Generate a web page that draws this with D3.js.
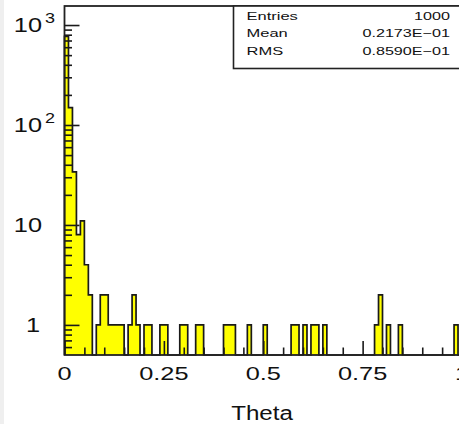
<!DOCTYPE html>
<html>
<head>
<meta charset="utf-8">
<script src="https://cdn.jsdelivr.net/npm/d3@7"></script>
<style>
  html, body { margin: 0; padding: 0; background: #fff; overflow: hidden; }
  svg { display: block; }
  text { font-family: "Liberation Sans", Arial, sans-serif; fill: #111; }
</style>
</head>
<body>
<svg id="chart" width="459" height="424"></svg>
<script>
// Theta distribution: 100 equal bins on [0, 1], counts on a log axis
const thetaRange = [0, 1];
const binCounts = [
  770, 149, 34, 8, 11, 4, 2, 0, 1, 2,
  2, 1, 1, 1, 1, 0, 1, 2, 1, 0,
  1, 1, 0, 0, 1, 1, 0, 0, 0, 1,
  1, 0, 0, 1, 1, 0, 0, 0, 0, 0,
  1, 1, 1, 0, 0, 0, 1, 0, 0, 0,
  1, 0, 0, 0, 0, 0, 0, 1, 1, 0,
  1, 0, 1, 1, 0, 1, 0, 0, 0, 0,
  0, 0, 0, 0, 0, 0, 0, 0, 1, 2,
  0, 1, 0, 0, 1, 0, 0, 0, 0, 0,
  0, 0, 0, 0, 0, 0, 0, 0, 1, 0
];

// statistics box
const statNames = ["Entries", "Mean", "RMS"];
const statValues = ["1000", "0.2173E\u221201", "0.8590E\u221201"];

// axis ticks and labels
const xMajorTicks = [0, 0.25, 0.5, 0.75, 1];
const xMajorLabels = ["0", "0.25", "0.5", "0.75", "1"];
const xMinorStep = 0.05;
const yDecades = [1, 10, 100, 1000];
const yLabelBase = ["1", "10", "10", "10"];
const yLabelExp = ["", "", "2", "3"];
const yRange = [0.5, 1550];
const xTitle = "Theta";

const svg = d3.select("#chart");
const W = 459, H = 424;
const plotL = 64.5, plotR = 462, plotT = 6, plotB = 355;

// light strip on the left edge
svg.append("rect").attr("x", 0).attr("y", 0).attr("width", 4).attr("height", H).attr("fill", "#efefef");

const x = d3.scaleLinear().domain(thetaRange).range([plotL, plotR]);
const y = d3.scaleLog().domain(yRange).range([plotB, plotT]);

// bins
const nBins = binCounts.length;
const bw = (thetaRange[1] - thetaRange[0]) / nBins;
const bins = binCounts.map((n, i) => ({ x0: thetaRange[0] + i * bw, x1: thetaRange[0] + (i + 1) * bw, n }));

// step outline points (empty bins sit on the baseline)
const pts = [[x(bins[0].x0), plotB]];
bins.forEach(b => {
  const yy = b.n > 0 ? y(b.n) : plotB;
  pts.push([x(b.x0), yy], [x(b.x1), yy]);
});
pts.push([x(bins[nBins - 1].x1), plotB]);

svg.append("path")
  .attr("d", d3.area().x(d => d[0]).y0(plotB).y1(d => d[1])(pts))
  .attr("fill", "#ffff00");
svg.append("path")
  .attr("d", d3.line()(pts))
  .attr("fill", "none")
  .attr("stroke", "#1a1a1a")
  .attr("stroke-width", 1.7)
  .attr("stroke-linejoin", "miter");

// frame
svg.append("rect")
  .attr("x", plotL).attr("y", plotT)
  .attr("width", plotR - plotL).attr("height", plotB - plotT)
  .attr("fill", "none").attr("stroke", "#222").attr("stroke-width", 1.8);

// y ticks (drawn inward from the left axis)
const yMinor = [];
[0.1, 1, 10, 100].forEach(d => {
  for (let m = 2; m <= 9; m++) {
    const v = d * m;
    if (v > yRange[0] && v < yRange[1]) yMinor.push(v);
  }
});
function styleAxis(g) {
  g.select(".domain").remove();
  g.selectAll("line").attr("stroke", "#1a1a1a").attr("stroke-width", 1.6);
  g.selectAll("text").remove();
}
svg.append("g").attr("transform", `translate(${plotL},0)`)
  .call(d3.axisRight(y).tickValues(yDecades).tickSize(15).tickFormat(""))
  .call(styleAxis);
svg.append("g").attr("transform", `translate(${plotL},0)`)
  .call(d3.axisRight(y).tickValues(yMinor).tickSize(7.5).tickFormat(""))
  .call(styleAxis);

// x ticks (drawn upward from the bottom axis)
const xMinor = d3.range(0, 1 + 1e-9, xMinorStep)
  .map(v => +v.toFixed(4))
  .filter(v => !xMajorTicks.some(t => Math.abs(t - v) < 1e-6));
svg.append("g").attr("transform", `translate(0,${plotB})`)
  .call(d3.axisTop(x).tickValues(xMajorTicks).tickSize(14).tickFormat(""))
  .call(styleAxis);
svg.append("g").attr("transform", `translate(0,${plotB})`)
  .call(d3.axisTop(x).tickValues(xMinor).tickSize(7.5).tickFormat(""))
  .call(styleAxis);

// stretched text helper
function wideText(parent, str, tx, ty, size, sx, anchor) {
  return parent.append("text")
    .attr("transform", `translate(${tx},${ty}) scale(${sx},1)`)
    .attr("text-anchor", anchor)
    .attr("font-size", size)
    .text(str);
}

// y labels
yDecades.forEach((v, i) => {
  const ty = y(v);
  if (yLabelExp[i] === "" && yLabelBase[i].length === 1) {
    wideText(svg, yLabelBase[i], 33, ty + 7.3, 19.5, 1.3, "middle");
  } else {
    wideText(svg, yLabelBase[i], 42, ty + 7.3, 19.5, 1.3, "end");
    if (yLabelExp[i]) wideText(svg, yLabelExp[i], 45, ty - 1.7, 15, 1.2, "start");
  }
});

// x labels
xMajorTicks.forEach((v, i) => {
  wideText(svg, xMajorLabels[i], x(v), 380, 18.5, 1.37, "middle");
});

// axis title
wideText(svg, xTitle, 262, 420, 21, 1.15, "middle");

// statistics box
const boxL = 233.5, boxB = 68.5;
svg.append("rect")
  .attr("x", boxL).attr("y", plotT)
  .attr("width", plotR - boxL).attr("height", boxB - plotT)
  .attr("fill", "#fff").attr("stroke", "#222").attr("stroke-width", 1.6);
statNames.forEach((s, i) => {
  const by = 19.5 + i * 17.8;
  wideText(svg, s, 246.5, by, 11, 1.5, "start");
  wideText(svg, statValues[i], 450, by, 11, 1.47, "end");
});
</script>
</body>
</html>
